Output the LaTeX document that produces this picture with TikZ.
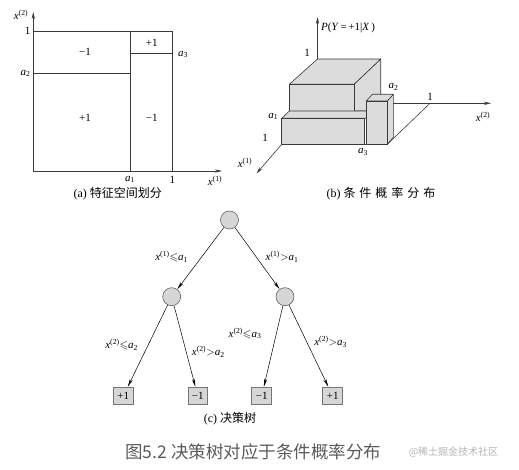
\documentclass[tikz,border=0pt]{standalone}
\usepackage{amssymb}
\usepackage{fontspec}
\setmainfont{Liberation Serif}
\newfontfamily\cjk{Noto Sans CJK SC}
\usetikzlibrary{arrows.meta}
\newcommand\xv[1]{\textit{x}\textsuperscript{(#1)}}
\newcommand\av[1]{\textit{a}\textsubscript{#1}}
\definecolor{boxfill}{HTML}{DCDCDC}
\definecolor{edgec}{HTML}{3A3A3A}
\definecolor{nodefill}{HTML}{D6D6D6}
\definecolor{capgray}{HTML}{5A5A5A}
\definecolor{wmgray}{HTML}{B4B4B4}
\begin{document}
\begin{tikzpicture}[x=1pt,y=-1pt,
  ln/.style={draw=edgec,line width=0.6pt},
  axisarrow/.style={draw=edgec,line width=0.6pt,-{Stealth[length=7pt,width=3.2pt]}},
  face/.style={fill=boxfill,draw=edgec,line width=0.6pt,line join=round},
  lab/.style={inner sep=0pt,font=\fontsize{11}{13}\selectfont},
  captxt/.style={inner sep=0pt,font=\fontsize{12}{14}\selectfont},
  cnode/.style={circle,fill=nodefill,draw=edgec!80,line width=0.6pt,minimum size=18pt,inner sep=0pt},
  leaf/.style={rectangle,fill=nodefill,draw=edgec!70,line width=1pt,minimum width=19.5pt,minimum height=17.5pt,inner sep=0pt,font=\fontsize{11}{13}\selectfont},
  tarrow/.style={draw=black,line width=0.5pt,-{Stealth[length=8pt,width=3pt]}}]
\useasboundingbox (0,0) rectangle (519,470);

% ---------- (a) feature space partition ----------
\coordinate (aO) at (33.3,171);
\coordinate (aY) at (33.3,12);
\coordinate (aX) at (222,171);
\draw[axisarrow] (aO) -- (aY);
\draw[axisarrow] (aO) -- (aX);
\draw[ln] (33.3,31.3) -- (172.3,31.3) -- (172.3,171);
\draw[ln] (130,31.3) -- (130,171);
\draw[ln] (33.3,73.3) -- (130,73.3);
\draw[ln] (130,53.3) -- (172.3,53.3);
\node[lab] (ay) at (21,15) {\xv{2}};
\node[lab] (ax) at (215,181) {\xv{1}};
\node[lab] (a1y) at (27.5,31.3) {1};
\node[lab] (a1x) at (172.3,179.5) {1};
\node[lab] (aa1) at (130,179.5) {\av{1}};
\node[lab] (aa2) at (25.5,73.3) {\av{2}};
\node[lab] (aa3) at (183,54.5) {\av{3}};
\node[lab] (r1) at (85,51.7) {−1};
\node[lab] (r2) at (151.7,43.3) {+1};
\node[lab] (r3) at (85,117.7) {+1};
\node[lab] (r4) at (151.7,117.7) {−1};
\node[captxt] (capa) at (117.7,193.3) {(a) {\cjk 特征空间划分}};

% ---------- (b) conditional probability distribution ----------
\coordinate (bTop) at (317.5,59);
\coordinate (bZ) at (317.5,17);
\draw[axisarrow] (bTop) -- (bZ);
% big upper box
\filldraw[face] (354,84.3) -- (380.7,59) -- (380.7,111) -- (354,111) -- cycle;
\filldraw[face] (289.3,84.3) -- (317.5,59) -- (380.7,59) -- (354,84.3) -- cycle;
\filldraw[face] (289.3,84.3) rectangle (354,111);
% lower step
\filldraw[face] (289.3,111) -- (366.3,111) -- (366.3,118.3) -- (281.7,118.3) -- cycle;
\filldraw[face] (281.7,118.3) rectangle (364.5,144.3);
% tall box
\filldraw[face] (387.3,101) -- (393.3,94.3) -- (393.3,137.3) -- (387.3,144.3) -- cycle;
\filldraw[face] (366.3,101) -- (372.3,94.3) -- (393.3,94.3) -- (387.3,101) -- cycle;
\filldraw[face] (366.3,101) rectangle (387.3,144.3);
\draw[ln] (364.5,144.3) -- (366.3,144.3);
% floor and other axes
\coordinate (bFR) at (387.3,144.3);
\coordinate (bFar) at (430,103.3);
\coordinate (bX2s) at (393.3,103.3);
\coordinate (bX2) at (491,103.3);
\coordinate (bFL) at (281.7,144.3);
\coordinate (bX1) at (256.5,173.5);
\draw[ln] (bFR) -- (bFar);
\draw[axisarrow] (bX2s) -- (bX2);
\draw[axisarrow] (bFL) -- (bX1);
\node[lab,anchor=west] (bP) at (321,28) {\textit{P}(\textit{Y}\,=\,+1|\textit{X}\,)};
\node[lab] (b1z) at (307,53) {1};
\node[lab] (ba2) at (393.5,87) {\av{2}};
\node[lab] (b1x2) at (430,96.5) {1};
\node[lab] (bx2) at (483,117) {\xv{2}};
\node[lab] (ba1) at (273.3,116.5) {\av{1}};
\node[lab] (b1x1) at (265,138.3) {1};
\node[lab] (ba3) at (363,152) {\av{3}};
\node[lab] (bx1) at (245,163) {\xv{1}};
\node[captxt] (capb) at (381,193.3) {(b) {\cjk 条\hspace{4pt}件\hspace{4pt}概\hspace{4pt}率\hspace{4pt}分\hspace{4pt}布}};

% ---------- (c) decision tree ----------
\node[cnode] (root) at (229.5,220) {};
\node[cnode] (nl) at (171.7,296.7) {};
\node[cnode] (nr) at (285,296.7) {};
\node[leaf] (l1) at (123.3,396) {+1};
\node[leaf] (l2) at (197.8,396) {−1};
\node[leaf] (l3) at (261.7,396) {−1};
\node[leaf] (l4) at (332.7,396) {+1};
\draw[tarrow] (root) -- (nl);
\draw[tarrow] (root) -- (nr);
\draw[tarrow] (nl) -- (l1);
\draw[tarrow] (nl) -- (l2);
\draw[tarrow] (nr) -- (l3);
\draw[tarrow] (nr) -- (l4);
\node[lab] (e1) at (171.7,256.7) {\xv{1}$\leqslant$\av{1}};
\node[lab] (e2) at (282,256.7) {\xv{1}$>$\av{1}};
\node[lab] (e3) at (121.7,345) {\xv{2}$\leqslant$\av{2}};
\node[lab] (e4) at (208.3,351.7) {\xv{2}$>$\av{2}};
\node[lab] (e5) at (245,333.3) {\xv{2}$\leqslant$\av{3}};
\node[lab] (e6) at (330.7,341.7) {\xv{2}$>$\av{3}};
\node[captxt] (capc) at (230,418.3) {(c) {\cjk 决策树}};

% ---------- figure caption ----------
\node[inner sep=0pt,text=capgray,font=\cjk\fontsize{17.5}{20}\selectfont] (fig) at (253.3,451.7) {图5.2 决策树对应于条件概率分布};
\node[inner sep=0pt,text=wmgray,font=\cjk\fontsize{10}{12}\selectfont] (wm) at (453.5,451.7) {@稀土掘金技术社区};
\end{tikzpicture}
\end{document}
